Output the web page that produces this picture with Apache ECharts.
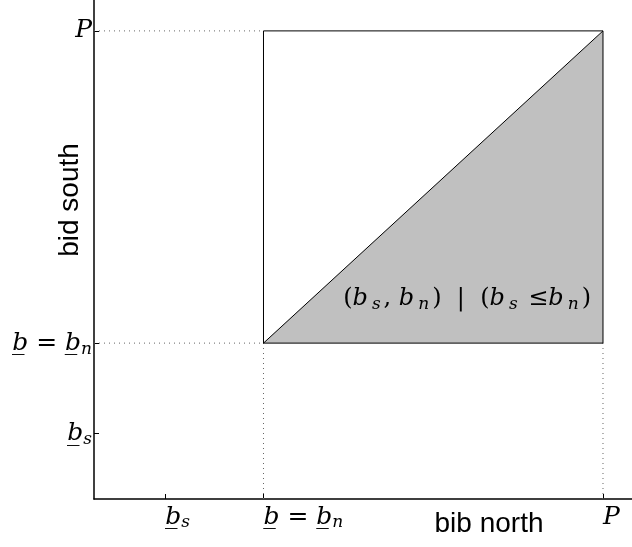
<!DOCTYPE html>
<html>
<head>
<meta charset="utf-8">
<script src="https://cdn.jsdelivr.net/npm/echarts@6/dist/echarts.min.js"></script>
<style>
  html, body { margin: 0; padding: 0; background: #fff; }
  #chart { width: 632px; height: 547px; }
</style>
</head>
<body>
<div id="chart"></div>
<script>
// key values (P = 1)
var bs = 0.14;
var bn = 0.333;
var P = 1;
var tickVals = [bs, bn, P];
var tickLabels = ['{i|b\u0332}{s|s}', '{i|b\u0332}{r| = }{i|b\u0332}{s|n}', '{i|P}'];

var squareX = [bn, P, P, bn, bn];
var squareY = [bn, bn, P, P, bn];
var triangle = [[bn, bn], [P, bn], [P, P]];
var diagonal = [[bn, bn], [P, P]];
var guides = [
  [[0, P], [bn, P]],
  [[0, bn], [bn, bn]],
  [[bn, 0], [bn, bn]],
  [[P, 0], [P, bn]]
];
var regionLabelAt = [0.733, 0.427];

var myChart = echarts.init(document.getElementById('chart'));

var serif = '"DejaVu Serif", "Liberation Serif", serif';
var rich = {
  i: { fontFamily: serif, fontStyle: 'italic', fontSize: 25, lineHeight: 30, color: '#000' },
  r: { fontFamily: serif, fontSize: 25, lineHeight: 30, color: '#000' },
  s: { fontFamily: serif, fontStyle: 'italic', fontSize: 17, lineHeight: 18, padding: [12, 0, 0, 0], color: '#000' }
};

function tickFormatter(v) {
  for (var k = 0; k < tickVals.length; k++) {
    if (Math.abs(tickVals[k] - v) < 1e-6) return tickLabels[k];
  }
  return '';
}

var squareData = squareX.map(function (x, k) { return [x, squareY[k]]; });

var guideSeries = guides.map(function (g) {
  return {
    type: 'line',
    data: g,
    symbol: 'none',
    silent: true,
    lineStyle: { color: '#666', width: 1, type: [1, 4] },
    z: 1
  };
});

var option = {
  animation: false,
  grid: { left: 94, right: 0, top: 0, bottom: 48 },
  xAxis: {
    type: 'value',
    min: 0,
    max: 1.057,
    axisLine: { show: true, lineStyle: { color: '#000', width: 1.5 } },
    splitLine: { show: false },
    axisTick: { show: true, inside: true, length: 5, customValues: tickVals, lineStyle: { color: '#000' } },
    axisLabel: {
      customValues: tickVals,
      formatter: tickFormatter,
      align: 'left',
      margin: 3,
      rich: rich
    }
  },
  yAxis: {
    type: 'value',
    min: 0,
    max: 1.066,
    axisLine: { show: true, lineStyle: { color: '#000', width: 1.5 } },
    splitLine: { show: false },
    axisTick: { show: true, inside: true, length: 5, customValues: tickVals, lineStyle: { color: '#000' } },
    axisLabel: {
      customValues: tickVals,
      formatter: tickFormatter,
      margin: 2,
      rich: rich
    }
  },
  graphic: [
    {
      type: 'text',
      x: 70,
      y: 200,
      rotation: Math.PI / 2,
      style: {
        text: 'bid south',
        font: '28px "Liberation Sans", Arial, sans-serif',
        fill: '#000',
        align: 'center',
        verticalAlign: 'middle'
      }
    },
    {
      type: 'text',
      x: 489,
      y: 524,
      style: {
        text: 'bib north',
        font: '28px "Liberation Sans", Arial, sans-serif',
        fill: '#000',
        align: 'center',
        verticalAlign: 'middle'
      }
    }
  ],
  series: [
    {
      type: 'custom',
      silent: true,
      z: 2,
      renderItem: function (params, api) {
        if (params.dataIndex !== 0) return;
        var pts = triangle.map(function (p) { return api.coord(p); });
        return {
          type: 'polygon',
          shape: { points: pts },
          style: { fill: '#c0c0c0', stroke: null }
        };
      },
      data: [0]
    }
  ].concat(guideSeries).concat([
    {
      type: 'line',
      data: squareData,
      symbol: 'none',
      silent: true,
      lineStyle: { color: '#000', width: 1 },
      z: 3
    },
    {
      type: 'line',
      data: diagonal,
      symbol: 'none',
      silent: true,
      lineStyle: { color: '#000', width: 1 },
      z: 3
    },
    {
      type: 'scatter',
      data: [regionLabelAt],
      symbolSize: 0,
      silent: true,
      itemStyle: { opacity: 1 },
      z: 4,
      label: {
        show: true,
        position: 'inside',
        color: '#000',
        opacity: 1,
        formatter: '{r|(}{i|b}{s|s}{r|, }{i|b}{s|n}{r|)  |  (}{i|b}{s|s}{r| \u2264}{i|b}{s|n}{r|)}',
        rich: {
          i: { fontFamily: serif, fontStyle: 'italic', fontSize: 24, lineHeight: 28, color: '#000' },
          r: { fontFamily: serif, fontSize: 24, lineHeight: 28, color: '#000' },
          s: { fontFamily: serif, fontStyle: 'italic', fontSize: 17, lineHeight: 18, padding: [10, 3, 0, 4], color: '#000' }
        }
      }
    }
  ])
};

myChart.setOption(option);
</script>
</body>
</html>
